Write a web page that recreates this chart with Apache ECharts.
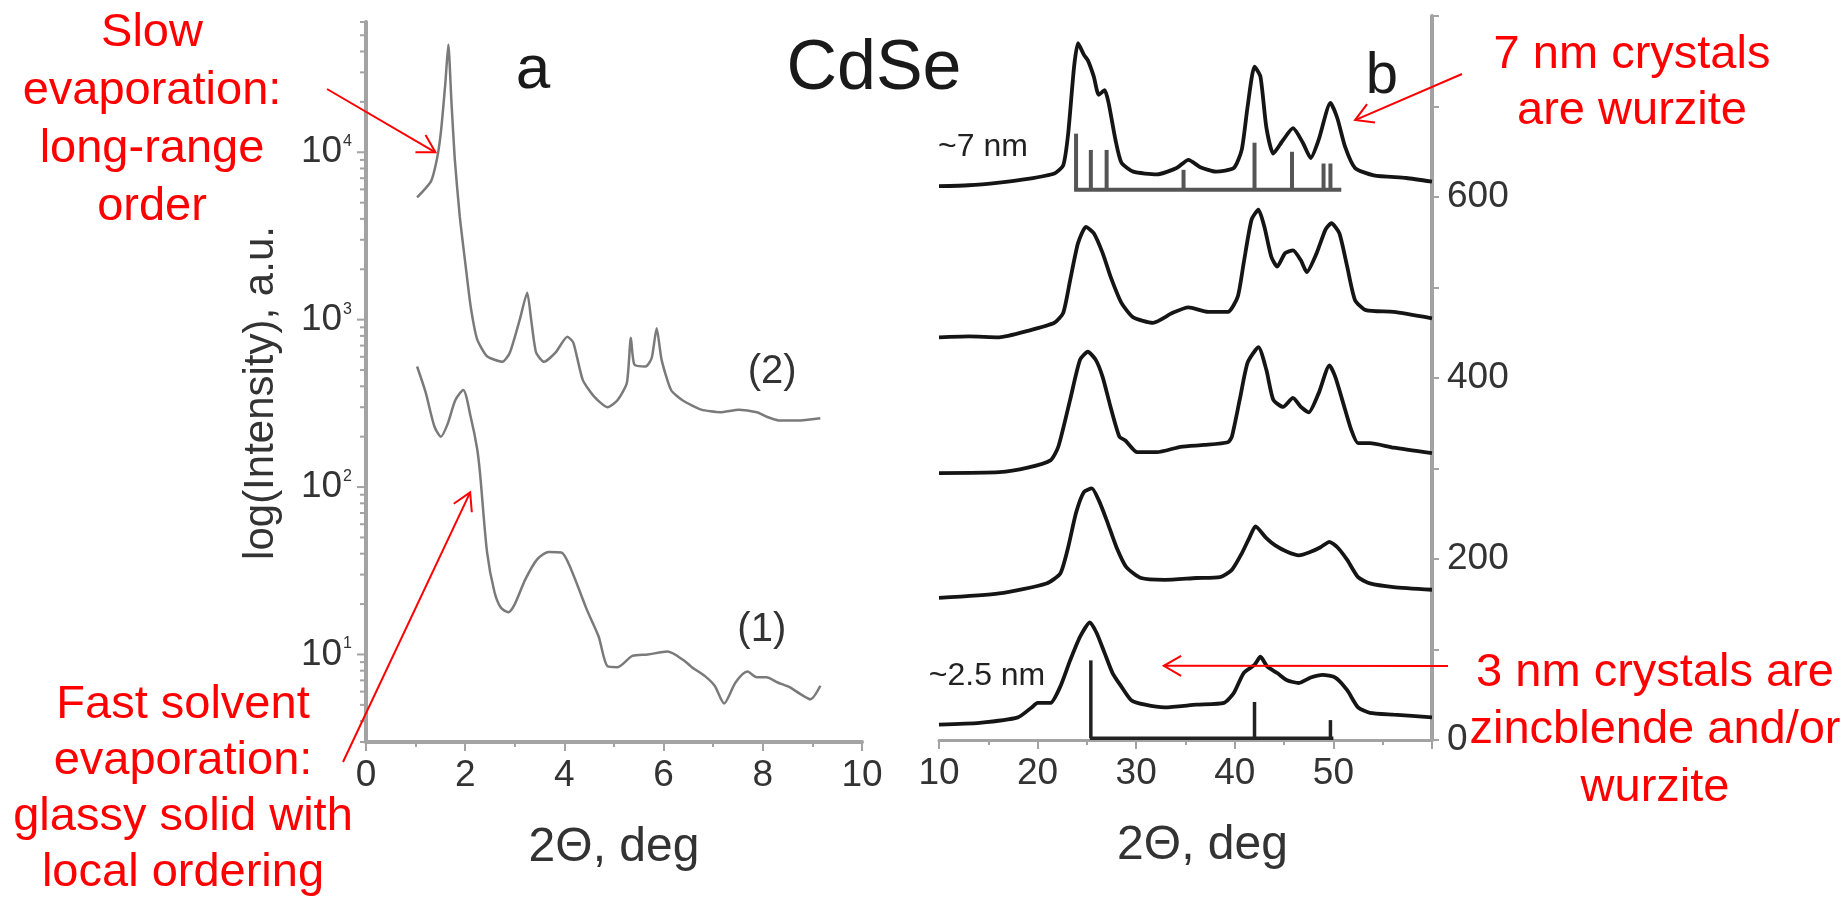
<!DOCTYPE html>
<html>
<head>
<meta charset="utf-8">
<title>CdSe XRD</title>
<script src="https://cdn.jsdelivr.net/npm/echarts@6.0.0/dist/echarts.min.js"></script>
<style>
  html, body { margin: 0; padding: 0; background: #ffffff; }
  #chart { width: 1848px; height: 903px; }
</style>
</head>
<body>
<div id="chart"></div>
<script>
// ---------- Panel a: small-angle diffraction of CdSe superlattices (log scale) ----------
// Curve (1): fast solvent evaporation
const aTheta1 = [1.03, 1.2, 1.38, 1.51, 1.65, 1.8, 1.96, 2.11, 2.24, 2.3, 2.44, 2.59, 2.72, 2.87, 3.0, 3.21, 3.45, 3.68, 3.94, 4.14, 4.45, 4.69, 4.87, 5.07, 5.37, 5.68, 6.08, 6.39, 6.57, 6.84, 7.03, 7.22, 7.45, 7.69, 7.88, 8.07, 8.3, 8.53, 8.76, 8.96, 9.16];
const aInt1   = [525, 370, 230, 200, 240, 330, 380, 263, 170, 120, 41, 23.6, 19, 17.9, 20, 28, 37, 41, 40.7, 32, 18.6, 12.8, 8.5, 8.4, 9.8, 10, 10.4, 9.3, 8.4, 7.4, 6.5, 5.1, 6.8, 7.9, 7.3, 7.3, 6.8, 6.4, 5.8, 5.4, 6.5];
// Curve (2): slow evaporation
const aTheta2 = [1.03, 1.31, 1.43, 1.51, 1.6, 1.66, 1.72, 1.79, 1.89, 2.01, 2.11, 2.24, 2.44, 2.75, 2.9, 3.1, 3.25, 3.33, 3.43, 3.59, 3.82, 4.06, 4.18, 4.37, 4.6, 4.87, 5.07, 5.26, 5.34, 5.41, 5.64, 5.76, 5.86, 5.96, 6.15, 6.38, 6.76, 7.14, 7.52, 7.88, 8.08, 8.32, 8.7, 9.16];
const aInt2   = [5370, 6700, 9100, 13200, 26000, 44000, 20700, 9100, 4150, 2080, 1200, 765, 605, 560, 635, 1000, 1450, 1000, 635, 560, 635, 790, 730, 437, 347, 300, 330, 420, 780, 540, 525, 590, 890, 575, 380, 330, 290, 280, 290, 280, 263, 250, 250, 258];
// Log-axis decades and per-decade tick multipliers
const aDecades = [1, 10, 100, 1000, 10000];
const aTickMultipliers = [1, 2, 3, 4, 5, 6, 7, 8, 9];
const aTicks = ['0', '2', '4', '6', '8', '10'];

// ---------- Panel b: wide-angle diffraction, stacked traces ----------
const b7nm = [[10,612],[13,613],[16.1,616],[19,620],[21.7,626],[22.6,635],[23.1,670],[23.7,744],[24.1,770],[24.7,757],[25.1,751],[25.7,733],[26.2,713],[26.8,718],[27.2,704],[27.9,663],[28.5,638],[29.7,628],[32.1,625],[34.1,632],[35.3,641],[36.5,633],[38.1,628],[39.9,632],[40.7,652],[41.3,700],[42.0,744],[42.6,733],[43.2,677],[43.9,648],[44.9,663],[45.9,676],[46.9,660],[47.7,643],[48.5,663],[49.7,704],[50.4,687],[51.2,655],[52.2,632],[54.1,624],[57.4,621],[60,617]];
const bTrace2 = [[10,445],[13,446],[16.1,445],[19,452],[21.7,461],[22.6,472],[23.3,508],[24.1,549],[24.9,567],[25.7,560],[26.6,538],[27.4,512],[28.5,483],[29.7,467],[31.7,461],[33.7,472],[35.3,478],[37.3,473],[39.3,473],[40.3,490],[40.9,527],[41.7,575],[42.4,586],[43.0,567],[43.7,534],[44.3,523],[45.1,538],[45.9,541],[46.7,530],[47.3,517],[48.3,538],[49.2,564],[49.8,571],[50.6,560],[51.4,523],[52.2,486],[53.3,475],[56.1,473],[60,466]];
const bTrace3 = [[10,295],[16.1,296],[19,301],[21.3,309],[22.1,324],[23.3,376],[24.3,420],[25.1,429],[25.9,420],[26.6,401],[27.4,368],[28.3,335],[28.9,331],[30.1,318],[32.1,318],[34.5,324],[36.9,326],[39.3,329],[39.7,335],[40.5,376],[41.3,417],[42.4,434],[43.2,409],[43.9,376],[44.9,368],[45.9,378],[46.7,368],[47.5,362],[48.5,383],[49.6,414],[50.2,401],[51.0,372],[51.8,343],[52.5,328],[53.7,328],[56.1,323],[60,317]];
const bTrace4 = [[10,157],[16.1,162],[20.9,173],[22.3,184],[23.1,213],[23.9,251],[24.7,274],[25.5,278],[26.2,265],[27.0,243],[28.0,213],[29.0,191],[30.5,179],[32.9,177],[36.1,179],[38.5,180],[39.7,188],[40.7,206],[41.5,224],[42.1,236],[43.2,223],[44.1,215],[45.3,208],[46.5,204],[47.7,208],[48.7,213],[49.6,219],[50.4,213],[51.4,199],[52.5,180],[53.7,173],[56.1,169],[60,166]];
const b2p5nm = [[10,17],[14.1,19],[18.0,25],[19.4,36],[20.0,41],[21.3,41],[22.3,59],[23.3,88],[24.3,114],[25.3,130],[26.0,118],[26.8,96],[27.6,74],[28.5,59],[29.5,44],[30.9,39],[32.9,36],[36.1,39],[38.9,41],[39.9,52],[40.9,74],[42.0,83],[42.6,92],[43.3,81],[44.3,74],[45.3,66],[46.5,63],[47.7,69],[48.9,72],[50.2,69],[51.4,55],[52.5,36],[53.7,30],[56.1,28],[60,25]];
// Reference line patterns: wurtzite (above the 7 nm trace) and zincblende (under the 2.5 nm trace)
const wurtziteTheta = [23.9, 25.4, 27.0, 34.8, 42.0, 45.8, 49.0, 49.7];
const wurtziteTop   = [670, 652, 652, 630, 660, 650, 637, 637];
const wurtziteBase  = 608;
const wurtziteSpan  = [23.7, 50.8];
const zincblendeTheta = [25.4, 42.0, 49.7];
const zincblendeTop   = [88, 42, 22];
const zincblendeBase  = 2;
const zincblendeSpan  = [25.3, 50.0];
const bTicks = ['10', '20', '30', '40', '50'];
const bIntensityTicks = ['0', '200', '400', '600'];

// ---------- Styling ----------
const FONT = '"Liberation Sans", Arial, Helvetica, sans-serif';
const AXIS_GREY = '#a3a3a3';
const TEXT_DARK = '#333333';
const CURVE_A = '#7a7a7a';
const CURVE_B = '#151515';
const RED = '#ff0000';

const zip = (xs, ys) => xs.map((x, i) => [x, ys[i]]);

// Log-scale tick values: every multiplier of every decade inside the axis range
const A_MIN = 3, A_MAX = 60000;
const aTickValues = [];
aDecades.forEach(d => aTickMultipliers.forEach(m => {
  const v = d * m;
  if (v >= A_MIN && v <= A_MAX) aTickValues.push(v);
}));

function isPow10(v) {
  const e = Math.log10(v);
  return Math.abs(e - Math.round(e)) < 1e-6;
}

function stickRenderer(base, span, color, width) {
  return function (params, api) {
    const x = api.value(0), top = api.value(1);
    const p0 = api.coord([x, base]);
    const p1 = api.coord([x, top]);
    const children = [{
      type: 'line',
      shape: { x1: p0[0], y1: p0[1], x2: p1[0], y2: p1[1] },
      style: { stroke: color, lineWidth: width }
    }];
    if (params.dataIndex === 0) {
      const a = api.coord([span[0], base]);
      const b = api.coord([span[1], base]);
      children.push({
        type: 'line',
        shape: { x1: a[0], y1: a[1], x2: b[0], y2: b[1] },
        style: { stroke: color, lineWidth: width }
      });
    }
    return { type: 'group', children: children };
  };
}

const axisLineStyle = { color: AXIS_GREY, width: 4 };
const tickStyle = { color: AXIS_GREY, width: 2 };
const labelStyle = { fontSize: 37, color: TEXT_DARK, fontFamily: FONT };
const titleStyle = { fontSize: 48, color: TEXT_DARK, fontFamily: FONT };

const option = {
  animation: false,
  backgroundColor: '#ffffff',
  grid: [
    { left: 366, top: 22, width: 496, height: 720, containLabel: false, outerBoundsMode: 'none' },
    { left: 939, top: 16, width: 493, height: 724, containLabel: false, outerBoundsMode: 'none' }
  ],
  xAxis: [
    {
      gridIndex: 0, type: 'value', min: 0, max: 10, interval: 2,
      axisLine: { show: true, onZero: false, lineStyle: axisLineStyle },
      axisTick: { show: true, length: 9, lineStyle: tickStyle },
      minorTick: { show: true, splitNumber: 2, length: 5, lineStyle: tickStyle },
      splitLine: { show: false }, minorSplitLine: { show: false },
      axisLabel: Object.assign({ margin: 15, formatter: v => aTicks.indexOf(String(v)) >= 0 ? String(v) : '' }, labelStyle),
      name: '2\u0398, deg', nameLocation: 'middle', nameGap: 82, nameTextStyle: titleStyle
    },
    {
      gridIndex: 1, type: 'value', min: 10, max: 60, interval: 10,
      axisLine: { show: true, onZero: false, lineStyle: { color: AXIS_GREY, width: 3 } },
      axisTick: { show: true, length: 9, lineStyle: tickStyle },
      minorTick: { show: true, splitNumber: 2, length: 5, lineStyle: tickStyle },
      splitLine: { show: false }, minorSplitLine: { show: false },
      axisLabel: Object.assign({ margin: 15, formatter: v => bTicks.indexOf(String(v)) >= 0 ? String(v) : '' }, labelStyle),
      name: '2\u0398, deg', nameLocation: 'middle', nameGap: 82,
      nameTextStyle: Object.assign({ padding: [0, 0, 0, 34] }, titleStyle)
    }
  ],
  yAxis: [
    {
      gridIndex: 0, type: 'log', logBase: 10, min: A_MIN, max: A_MAX,
      axisLine: { show: true, onZero: false, lineStyle: axisLineStyle },
      axisTick: { show: false },
      splitLine: { show: false },
      axisLabel: {
        margin: 14,
        formatter: v => isPow10(v) ? '{m|10}{s|' + Math.round(Math.log10(v)) + '}' : '',
        rich: {
          m: { fontSize: 37, color: TEXT_DARK, fontFamily: FONT },
          s: { fontSize: 16, color: TEXT_DARK, fontFamily: FONT, verticalAlign: 'top', padding: [0, 0, 0, 1] }
        }
      },
      name: 'log(Intensity), a.u.', nameLocation: 'middle', nameRotate: 90, nameGap: 84,
      nameTextStyle: { fontSize: 42, color: TEXT_DARK, fontFamily: FONT, padding: [0, 22, 0, 0] }
    },
    {
      gridIndex: 1, type: 'value', position: 'right', min: 0, max: 800, interval: 200,
      axisLine: { show: true, onZero: false, lineStyle: axisLineStyle },
      axisTick: { show: true, length: 7, lineStyle: tickStyle },
      minorTick: { show: true, splitNumber: 2, length: 7, lineStyle: tickStyle },
      splitLine: { show: false }, minorSplitLine: { show: false },
      axisLabel: Object.assign({ margin: 15, formatter: v => bIntensityTicks.indexOf(String(v)) >= 0 ? String(v) : '' }, labelStyle)
    }
  ],
  series: [
    // log-axis ticks (decades and their 2..9 multiples)
    {
      type: 'custom', xAxisIndex: 0, yAxisIndex: 0, silent: true, z: 3,
      data: aTickValues.map(v => [0, v]),
      renderItem: function (params, api) {
        const v = api.value(1);
        const p = api.coord([0, v]);
        const len = isPow10(v) ? 9 : 6;
        return {
          type: 'line',
          shape: { x1: p[0] - len, y1: p[1], x2: p[0], y2: p[1] },
          style: { stroke: AXIS_GREY, lineWidth: 2 }
        };
      }
    },
    {
      name: '(1)', type: 'line', xAxisIndex: 0, yAxisIndex: 0,
      data: zip(aTheta1, aInt1), symbol: 'none', smooth: 0.25,
      lineStyle: { color: CURVE_A, width: 2.5 }
    },
    {
      name: '(2)', type: 'line', xAxisIndex: 0, yAxisIndex: 0,
      data: zip(aTheta2, aInt2), symbol: 'none', smooth: 0.2,
      lineStyle: { color: CURVE_A, width: 2.5 }
    },
    // panel b traces
    { name: '~7 nm', type: 'line', xAxisIndex: 1, yAxisIndex: 1, data: b7nm, symbol: 'none', smooth: 0.2, lineStyle: { color: CURVE_B, width: 3.8 } },
    { type: 'line', xAxisIndex: 1, yAxisIndex: 1, data: bTrace2, symbol: 'none', smooth: 0.2, lineStyle: { color: CURVE_B, width: 3.8 } },
    { type: 'line', xAxisIndex: 1, yAxisIndex: 1, data: bTrace3, symbol: 'none', smooth: 0.2, lineStyle: { color: CURVE_B, width: 3.8 } },
    { type: 'line', xAxisIndex: 1, yAxisIndex: 1, data: bTrace4, symbol: 'none', smooth: 0.2, lineStyle: { color: CURVE_B, width: 3.8 } },
    { name: '~2.5 nm', type: 'line', xAxisIndex: 1, yAxisIndex: 1, data: b2p5nm, symbol: 'none', smooth: 0.2, lineStyle: { color: CURVE_B, width: 3.8 } },
    // reference stick patterns
    {
      type: 'custom', xAxisIndex: 1, yAxisIndex: 1, silent: true, z: 4,
      data: zip(wurtziteTheta, wurtziteTop),
      renderItem: stickRenderer(wurtziteBase, wurtziteSpan, '#555555', 4)
    },
    {
      type: 'custom', xAxisIndex: 1, yAxisIndex: 1, silent: true, z: 4,
      data: zip(zincblendeTheta, zincblendeTop),
      renderItem: stickRenderer(zincblendeBase, zincblendeSpan, '#222222', 3.5)
    }
  ]
};

const chart = echarts.init(document.getElementById('chart'), null, { renderer: 'canvas' });
chart.setOption(option);

// ---------- Annotations ----------
const toPx = (gridIndex, pt) => chart.convertToPixel({ gridIndex: gridIndex }, pt);

function textEl(text, pos, size, color, lineHeight, vAlign) {
  return {
    type: 'text', silent: true, z: 20,
    style: {
      text: text, x: pos[0], y: pos[1], fill: color,
      fontSize: size, fontFamily: FONT,
      align: 'center', verticalAlign: vAlign || 'middle',
      textAlign: 'center', textVerticalAlign: vAlign || 'middle',
      lineHeight: lineHeight || size
    }
  };
}

function arrowEls(tail, tip) {
  const ang = Math.atan2(tip[1] - tail[1], tip[0] - tail[0]);
  const L = 20, spread = Math.PI / 6;
  const a1 = [tip[0] - L * Math.cos(ang - spread), tip[1] - L * Math.sin(ang - spread)];
  const a2 = [tip[0] - L * Math.cos(ang + spread), tip[1] - L * Math.sin(ang + spread)];
  return [
    { type: 'line', silent: true, z: 20, shape: { x1: tail[0], y1: tail[1], x2: tip[0], y2: tip[1] }, style: { stroke: RED, lineWidth: 2 } },
    { type: 'polyline', silent: true, z: 20, shape: { points: [a1, tip, a2] }, style: { stroke: RED, lineWidth: 2, fill: null } }
  ];
}

const graphics = [
  // panel labels
  textEl('a', [533, 71], 62, '#1a1a1a'),
  textEl('CdSe', [874, 70], 70, '#1a1a1a'),
  textEl('b', [1382, 77], 58, '#1a1a1a'),
  // curve and trace labels, anchored in data space
  textEl('(1)', toPx(0, [7.98, 14]), 40, TEXT_DARK),
  textEl('(2)', toPx(0, [8.19, 485]), 40, TEXT_DARK),
  textEl('~7 nm', toPx(1, [14.46, 655]), 32, '#222222'),
  textEl('~2.5 nm', toPx(1, [14.87, 70]), 32, '#222222'),
  // red commentary
  textEl('Slow\nevaporation:\nlong-range\norder', [152, 4], 47, RED, 58, 'top'),
  textEl('Fast solvent\nevaporation:\nglassy solid with\nlocal ordering', [183, 677], 47, RED, 56, 'top'),
  textEl('7 nm crystals\nare wurzite', [1632, 27], 47, RED, 56, 'top'),
  textEl('3 nm crystals are\nzincblende and/or\nwurzite', [1655, 644], 47, RED, 57.5, 'top')
]
  .concat(arrowEls([327, 89], toPx(0, [1.4, 10000])))
  .concat(arrowEls([343, 762], toPx(0, [2.1, 93])))
  .concat(arrowEls([1462, 74], toPx(1, [52.2, 685])))
  .concat(arrowEls([1448, 666], toPx(1, [32.8, 82])));

chart.setOption({ graphic: graphics });
</script>
</body>
</html>
